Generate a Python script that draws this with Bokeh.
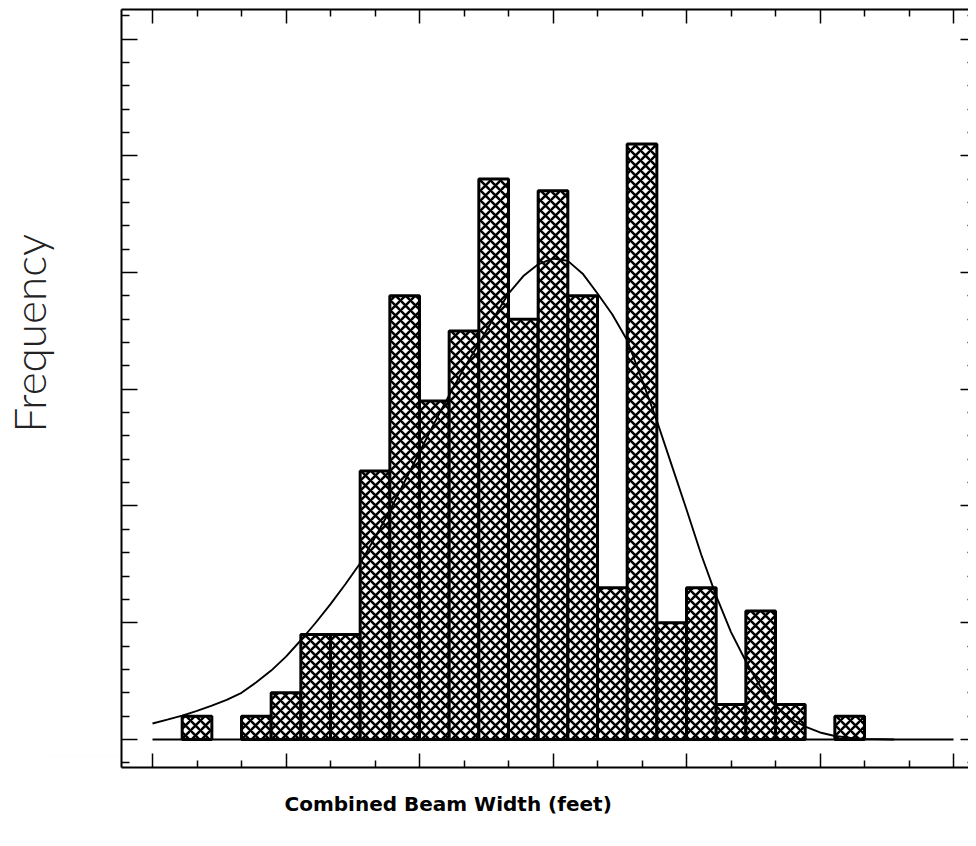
import numpy as np
from bokeh.plotting import figure
from bokeh.models import Range1d, LinearAxis, FixedTicker, ColumnDataSource, Title
from bokeh.embed import file_html
from bokeh.resources import INLINE

# ---- data ----
# bin left edges (x units: bin width 2), and counts
bin_left = [2, 6, 8, 10, 12, 14, 16, 18, 20, 22, 24, 26, 28, 30, 32, 34, 36, 38, 40, 42, 46]
counts = [2, 2, 4, 9, 9, 23, 38, 29, 35, 48, 36, 47, 38, 13, 51, 10, 13, 3, 11, 3, 2]
bin_width = 2

# fitted curve
curve_x = [0, 1, 2, 3, 4, 5, 6, 7, 8, 9, 10, 11, 12, 13, 14, 15, 16, 17, 18, 19, 20, 21, 22,
           23, 24, 25, 26, 27, 28, 29, 30, 31, 32, 33, 34, 35, 36, 37, 38, 39, 40, 41, 42,
           43, 44, 45, 46, 47, 48, 50]
curve_y = [1.37, 1.7, 2.05, 2.45, 2.9, 3.4, 4.0, 4.9, 5.9, 7.1, 8.5, 10.0, 11.6, 13.3, 15.1,
           17.3, 19.6, 22.1, 24.6, 27.1, 29.5, 31.8, 33.9, 36.1, 38.2, 39.7, 40.7, 41.2, 41.0,
           39.9, 38.2, 36.4, 34.2, 30.8, 27.3, 23.5, 19.7, 15.8, 12.3, 9.2, 6.7, 4.5, 2.9,
           1.8, 1.1, 0.6, 0.3, 0.15, 0.05, 0.0]

x_major = [0, 9, 18, 27, 36, 45, 54]
x_minor = [3, 6, 12, 15, 21, 24, 30, 33, 39, 42, 48, 51]
y_major = [0, 10, 20, 30, 40, 50, 60]
y_minor = [v for v in range(-2, 63, 2) if v % 10 != 0]

x_label = "Combined Beam Width (feet)"
y_label = "Frequency"

p = figure(width=968, height=838, output_backend="svg", toolbar_location=None,
           x_axis_type=None, y_axis_type=None,
           x_range=Range1d(-2.09, 55.01), y_range=Range1d(-2.40, 62.53),
           min_border_left=121, min_border_right=0, min_border_top=9, min_border_bottom=71)
p.outline_line_color = None
p.grid.visible = False
p.background_fill_color = "white"
p.border_fill_color = "white"

src = ColumnDataSource(dict(left=bin_left, right=[b + bin_width for b in bin_left],
                            top=counts, bottom=[0] * len(counts)))
p.quad(left="left", right="right", top="top", bottom="bottom", source=src,
       fill_color="white", line_color="black", line_width=3,
       hatch_pattern="diagonal_cross", hatch_color="black", hatch_weight=2.5, hatch_scale=10)

p.line([x_major[0], x_major[-1]], [0, 0], line_color="black", line_width=2)
p.line(curve_x, curve_y, line_color="black", line_width=1.9)

def mk_axis(place, ticks, minor, tin, tmin, line=True, out=0, tick_alpha=1.0):
    ax = LinearAxis(ticker=FixedTicker(ticks=ticks, minor_ticks=minor))
    ax.major_label_text_font_size = "0px"
    ax.major_label_text_color = None
    ax.major_label_standoff = 0
    ax.major_tick_out = out
    ax.minor_tick_out = 0
    ax.major_tick_in = tin
    ax.minor_tick_in = tmin
    ax.major_tick_line_width = 1.5
    ax.minor_tick_line_width = 1.5
    ax.major_tick_line_color = "black"
    ax.minor_tick_line_color = "black"
    ax.major_tick_line_alpha = tick_alpha
    if line:
        ax.axis_line_width = 2
        ax.axis_line_color = "black"
    else:
        ax.axis_line_color = None
    p.add_layout(ax, place)
    return ax

mk_axis("below", x_major, x_minor, 14, 7)
mk_axis("above", x_major, x_minor, 14, 7)
mk_axis("left", y_major, y_minor, 16, 8)
mk_axis("right", y_major, y_minor, 8, 1, line=False)
# near-invisible spacer axis that pushes the y-title outward
mk_axis("left", [y_major[0] - 1.5], [], 0, 0, line=False, out=73, tick_alpha=0.01)

p.add_layout(Title(text=x_label, align="left", vertical_align="bottom", offset=163, standoff=45,
                   text_font="DejaVu Sans", text_font_style="bold", text_font_size="20px",
                   text_color="black"), "below")
p.add_layout(Title(text=y_label, align="left", vertical_align="bottom", offset=335, standoff=-12,
                   text_font="Lato Light", text_font_style="normal", text_font_size="44px",
                   text_color="#222222"), "left")

open("out.html", "w").write(file_html(p, INLINE))
